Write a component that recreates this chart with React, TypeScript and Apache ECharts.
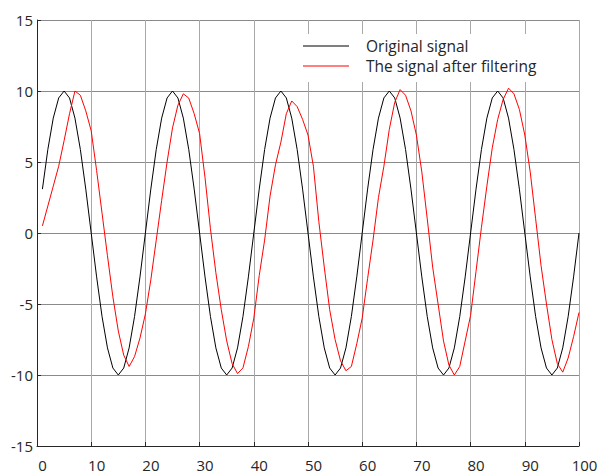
import React, { useEffect, useRef } from "react";
import * as echarts from "echarts";

const sampleIndex: number[] = Array.from({ length: 100 }, (_, i) => i + 1);

const originalSignal: number[] = [
  3.09, 5.88, 8.09, 9.51, 10, 9.51, 8.09, 5.88, 3.09, 0,
  -3.09, -5.88, -8.09, -9.51, -10, -9.51, -8.09, -5.88, -3.09, 0,
  3.09, 5.88, 8.09, 9.51, 10, 9.51, 8.09, 5.88, 3.09, 0,
  -3.09, -5.88, -8.09, -9.51, -10, -9.51, -8.09, -5.88, -3.09, 0,
  3.09, 5.88, 8.09, 9.51, 10, 9.51, 8.09, 5.88, 3.09, 0,
  -3.09, -5.88, -8.09, -9.51, -10, -9.51, -8.09, -5.88, -3.09, 0,
  3.09, 5.88, 8.09, 9.51, 10, 9.51, 8.09, 5.88, 3.09, 0,
  -3.09, -5.88, -8.09, -9.51, -10, -9.51, -8.09, -5.88, -3.09, 0,
  3.09, 5.88, 8.09, 9.51, 10, 9.51, 8.09, 5.88, 3.09, 0,
  -3.09, -5.88, -8.09, -9.51, -10, -9.51, -8.09, -5.88, -3.09, 0,
];

const filteredSignal: number[] = [
  0.5, 1.9, 3.3, 4.7, 6.5, 8.4, 10.0, 9.7, 8.6, 7.2,
  4.4, 1.4, -1.6, -4.5, -6.9, -8.6, -9.4, -8.7, -7.4, -5.7,
  -3.3, -0.5, 2.3, 5.0, 7.4, 9.0, 9.8, 9.5, 8.4, 7.0,
  3.9, 0.3, -2.8, -5.4, -7.6, -9.2, -9.9, -9.5, -8.0, -6.0,
  -3.0, -0.5, 2.6, 4.8, 6.4, 8.4, 9.3, 8.9, 8.0, 6.9,
  4.7, 0.8, -2.4, -5.4, -7.5, -9.0, -9.7, -9.4, -7.8, -6.0,
  -3.2, -0.5, 2.5, 4.7, 7.3, 9.2, 10.1, 9.7, 8.6, 6.9,
  4.3, 1.0, -2.4, -5.0, -7.6, -9.3, -10.0, -9.4, -7.6, -5.8,
  -2.7, 0.4, 3.3, 6.0, 8.0, 9.4, 10.2, 9.8, 8.7, 6.9,
  4.3, 1.0, -2.3, -5.0, -7.5, -9.2, -9.8, -8.8, -7.3, -5.6,
];

const seriesNames: string[] = ["Original signal", "The signal after filtering"];

export default function App() {
  const ref = useRef<HTMLDivElement>(null);

  useEffect(() => {
    if (!ref.current) return;
    const chart = echarts.init(ref.current, undefined, { renderer: "svg" });
    const font = "'Open Sans', 'Noto Sans', sans-serif";
    chart.setOption({
      animation: false,
      backgroundColor: "#ffffff",
      grid: {
        left: 37,
        right: 18,
        top: 20,
        bottom: 27,
        containLabel: false,
        outerBoundsMode: "none",
      },
      legend: {
        orient: "vertical",
        left: 298,
        top: 34,
        backgroundColor: "#ffffff",
        padding: [2, 8, 6, 5],
        icon: "rect",
        itemWidth: 46,
        itemHeight: 1,
        itemGap: 0,
        textStyle: {
          fontFamily: font,
          fontSize: 15.5,
          lineHeight: 12,
          color: "#262626",
          padding: [0, 0, 8, 12],
        },
        data: seriesNames,
      },
      xAxis: {
        type: "value",
        min: 0,
        max: 100,
        interval: 10,
        axisLine: { show: true, onZero: false, lineStyle: { color: "#262626", width: 1 } },
        axisTick: { show: true, inside: true, length: 4, lineStyle: { color: "#262626" } },
        axisLabel: {
          fontFamily: font,
          fontSize: 15,
          color: "#262626",
          margin: 11,
          padding: [0, 0, 0, 11],
        },
        splitLine: { show: true, lineStyle: { color: "#a8a8a8", width: 1 } },
      },
      yAxis: {
        type: "value",
        min: -15,
        max: 15,
        interval: 5,
        axisLine: { show: true, onZero: false, lineStyle: { color: "#262626", width: 1 } },
        axisTick: { show: true, inside: true, length: 4, lineStyle: { color: "#262626" } },
        axisLabel: {
          fontFamily: font,
          fontSize: 15,
          color: "#262626",
          margin: 4,
          padding: [5, 0, 0, 0],
        },
        splitLine: { show: true, lineStyle: { color: "#8a8a8a", width: 1 } },
      },
      series: [
        {
          name: seriesNames[0],
          type: "line",
          showSymbol: false,
          symbol: "none",
          data: sampleIndex.map((t, i) => [t, originalSignal[i]]),
          lineStyle: { color: "#000000", width: 1 },
          itemStyle: { color: "#000000" },
        },
        {
          name: seriesNames[1],
          type: "line",
          showSymbol: false,
          symbol: "none",
          data: sampleIndex.map((t, i) => [t, filteredSignal[i]]),
          lineStyle: { color: "#ff0000", width: 1 },
          itemStyle: { color: "#ff0000" },
        },
      ],
    });
    return () => chart.dispose();
  }, []);

  return (
    <div
      ref={ref}
      style={{ position: "fixed", left: 0, top: 0, width: 597, height: 473 }}
    />
  );
}
